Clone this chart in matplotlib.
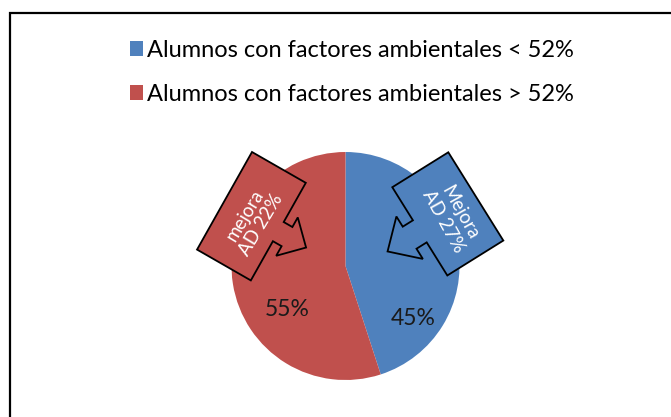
"""Pie chart: alumnos con factores ambientales, with 'mejora AD' callouts."""

import numpy as np
import matplotlib
matplotlib.use("Agg")
import matplotlib.pyplot as plt
from matplotlib.patches import Polygon, Rectangle

# ---- data ----
categories = ["Alumnos con factores ambientales < 52%",
              "Alumnos con factores ambientales > 52%"]
values = [45, 55]
callout_texts = ["Mejora\nAD 27%", "mejora\nAD 22%"]

BLUE = "#4F81BD"
RED = "#C0504D"
colors = [BLUE, RED]

W_PX, H_PX = 671, 417
plt.rcParams["font.family"] = ["Lato", "DejaVu Sans"]


def img(x, y):
    """image pixel coords (y down) -> data coords (y up)"""
    return x, H_PX - y


def callout(origin, udir, vdir, W, L, shaft, sh, head, hh):
    """Excel-like arrow callout in image pixels, arrow out of the u=W side."""
    c = L / 2
    loc = [(0, 0), (W, 0), (W, c - sh), (W + shaft, c - sh), (W + shaft, c - hh),
           (W + shaft + head, c), (W + shaft, c + hh), (W + shaft, c + sh),
           (W, c + sh), (W, L), (0, L)]
    u = np.array(udir) / np.hypot(*udir)
    v = np.array(vdir) / np.hypot(*vdir)
    o = np.array(origin)
    pts = [o + a * u + b * v for a, b in loc]
    return [img(px, py) for px, py in pts]


fig = plt.figure(figsize=(W_PX / 100, H_PX / 100), dpi=100)
ax = fig.add_axes([0, 0, 1, 1])

cx, cy = img(345.5, 266)
wedges, _, autotexts = ax.pie(values, colors=colors, startangle=90, counterclock=False,
                              center=(cx, cy), radius=114, autopct="%1.0f%%",
                              textprops=dict(fontsize=16.5, color="#1a1a1a"),
                              wedgeprops=dict(linewidth=0))

# percentage label positions (angle in degrees, fraction of radius)
label_pos = [(-37.6, 0.75), (-143, 0.64)]
for t, (ang, fr) in zip(autotexts, label_pos):
    a = np.deg2rad(ang)
    t.set_position((cx + fr * 114 * np.cos(a), cy + fr * 114 * np.sin(a)))
    t.set_ha("center")
    t.set_va("center")

# callouts
left = callout((252, 152), (0.867, 0.497), (-0.49, 0.87), 62, 112, 10, 11, 22, 22)
right = callout((448.3, 152.3), (-0.85, 0.53), (0.53, 0.85), 66, 104, 12, 13, 26, 25)
ax.add_patch(Polygon(right, closed=True, facecolor=BLUE, edgecolor="black",
                     linewidth=1.3, zorder=5))
ax.add_patch(Polygon(left, closed=True, facecolor=RED, edgecolor="black",
                     linewidth=1.3, zorder=5))
ax.text(*img(452, 217), callout_texts[0], rotation=-61, ha="center", va="center",
        color="white", fontsize=13.5, linespacing=1.15, zorder=6,
        rotation_mode="anchor")
ax.text(*img(253, 220), callout_texts[1], rotation=59, ha="center", va="center",
        color="white", fontsize=13.5, linespacing=1.15, zorder=6,
        rotation_mode="anchor")

# chart frame (right and bottom edges lie outside the picture)
ax.add_patch(Rectangle(img(10, 430), 700, 430 - 13, fill=False,
                       edgecolor="black", linewidth=1.6, zorder=1))

ax.set_xlim(0, W_PX)
ax.set_ylim(0, H_PX)
ax.set_aspect("equal")
ax.axis("off")

fig.legend(wedges, categories, loc="upper center",
           bbox_to_anchor=(352 / W_PX, 1 - 28 / H_PX), frameon=False,
           fontsize=17, handlelength=0.55, handleheight=0.55, handletextpad=0.2,
           labelspacing=0.98, borderpad=0)

fig.savefig("out.png", dpi=100)
